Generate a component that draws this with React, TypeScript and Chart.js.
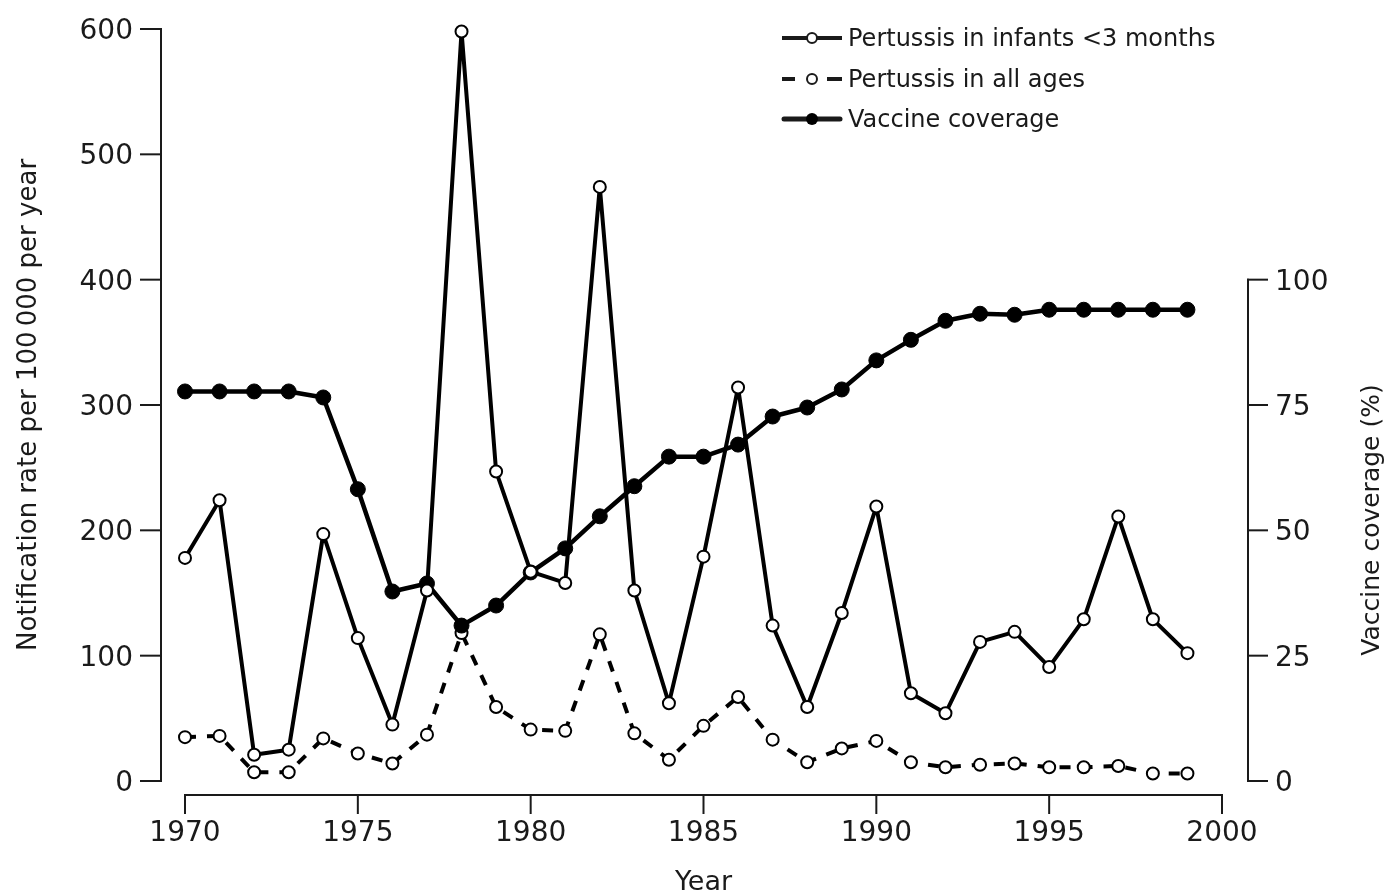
import React, { useEffect, useRef } from 'react';
import { Chart, registerables } from 'chart.js';

Chart.register(...registerables);

const years = [
  1970, 1971, 1972, 1973, 1974, 1975, 1976, 1977, 1978, 1979,
  1980, 1981, 1982, 1983, 1984, 1985, 1986, 1987, 1988, 1989,
  1990, 1991, 1992, 1993, 1994, 1995, 1996, 1997, 1998, 1999,
];

const infants = [
  178, 224, 21, 25, 197, 114, 45, 152, 598, 247,
  167, 158, 474, 152, 62, 179, 314, 124, 59, 134,
  219, 70, 54, 111, 119, 91, 129, 211, 129, 102,
];

const allAges = [
  35, 36, 7, 7, 34, 22, 14, 37, 118, 59,
  41, 40, 117, 38, 17, 44, 67, 33, 15, 26,
  32, 15, 11, 13, 14, 11, 11, 12, 6, 6,
];

const coverage = [
  77.7, 77.7, 77.7, 77.7, 76.5, 58.2, 37.8, 39.4, 31, 35,
  41.6, 46.4, 52.8, 58.8, 64.7, 64.7, 67.1, 72.7, 74.5, 78.1,
  83.9, 88, 91.8, 93.2, 93, 94, 94, 94, 94, 94,
];

const xTicks = [1970, 1975, 1980, 1985, 1990, 1995, 2000];
const leftTicks = [0, 100, 200, 300, 400, 500, 600];
const rightTicks = [0, 25, 50, 75, 100];

const seriesLabels = [
  'Pertussis in infants <3 months',
  'Pertussis in all ages',
  'Vaccine coverage',
];

const xTitle = 'Year';
const leftTitle = 'Notification rate per 100\u2009000 per year';
const rightTitle = 'Vaccine coverage (%)';

const INK = '#1a1a1a';
const FONT = '"DejaVu Sans", "Liberation Sans", sans-serif';

const axesPlugin = {
  id: 'customAxes',
  afterDraw(chart: any) {
    const ctx = chart.ctx as CanvasRenderingContext2D;
    const xs = chart.scales.x;
    const ys = chart.scales.y;
    const y2 = chart.scales.y2;
    ctx.save();
    ctx.strokeStyle = INK;
    ctx.fillStyle = INK;
    ctx.lineWidth = 2;
    ctx.lineCap = 'square';

    // Left axis
    const lx = xs.left - 24;
    const yTop = ys.getPixelForValue(leftTicks[leftTicks.length - 1]);
    const yBot = ys.getPixelForValue(leftTicks[0]);
    ctx.beginPath();
    ctx.moveTo(lx, yTop);
    ctx.lineTo(lx, yBot);
    ctx.stroke();
    ctx.font = '28px ' + FONT;
    ctx.textAlign = 'right';
    ctx.textBaseline = 'alphabetic';
    leftTicks.forEach((t) => {
      const py = ys.getPixelForValue(t);
      ctx.beginPath();
      ctx.moveTo(lx - 20, py);
      ctx.lineTo(lx, py);
      ctx.stroke();
      ctx.fillText(String(t), lx - 28, py + 10);
    });

    // Right axis
    const rx = xs.right + 26;
    ctx.beginPath();
    ctx.moveTo(rx, y2.getPixelForValue(rightTicks[rightTicks.length - 1]));
    ctx.lineTo(rx, y2.getPixelForValue(rightTicks[0]));
    ctx.stroke();
    ctx.textAlign = 'left';
    rightTicks.forEach((t) => {
      const py = y2.getPixelForValue(t);
      ctx.beginPath();
      ctx.moveTo(rx, py);
      ctx.lineTo(rx + 19, py);
      ctx.stroke();
      ctx.fillText(String(t), rx + 27, py + 10);
    });

    // Bottom axis
    const by = ys.bottom + 14;
    ctx.beginPath();
    ctx.moveTo(xs.getPixelForValue(xTicks[0]), by);
    ctx.lineTo(xs.getPixelForValue(xTicks[xTicks.length - 1]), by);
    ctx.stroke();
    ctx.textAlign = 'center';
    xTicks.forEach((t) => {
      const px = xs.getPixelForValue(t);
      ctx.beginPath();
      ctx.moveTo(px, by);
      ctx.lineTo(px, by + 18);
      ctx.stroke();
      ctx.fillText(String(t), px, by + 46);
    });

    // Titles
    ctx.font = '27px ' + FONT;
    ctx.textAlign = 'center';
    ctx.fillText(xTitle, (xs.left + xs.right) / 2, by + 95);

    ctx.font = '26px ' + FONT;
    ctx.save();
    ctx.translate(36, (ys.top + ys.bottom) / 2);
    ctx.rotate(-Math.PI / 2);
    ctx.fillText(leftTitle, 0, 0);
    ctx.restore();

    ctx.font = '25px ' + FONT;
    ctx.save();
    ctx.translate(1379, 520);
    ctx.rotate(-Math.PI / 2);
    ctx.fillText(rightTitle, 0, 0);
    ctx.restore();

    // Legend
    const lgX0 = 782;
    const lgX1 = 842;
    const lgM = 812;
    const rows = [38, 79, 119];
    ctx.font = '24px ' + FONT;
    ctx.textAlign = 'left';
    ctx.lineCap = 'butt';
    // row 1
    ctx.lineWidth = 4;
    ctx.beginPath();
    ctx.moveTo(lgX0, rows[0]);
    ctx.lineTo(lgX1, rows[0]);
    ctx.stroke();
    ctx.beginPath();
    ctx.arc(lgM, rows[0], 5, 0, Math.PI * 2);
    ctx.fillStyle = '#fff';
    ctx.fill();
    ctx.lineWidth = 2;
    ctx.stroke();
    // row 2
    ctx.lineWidth = 4;
    ctx.beginPath();
    ctx.moveTo(lgX0, rows[1]);
    ctx.lineTo(lgX0 + 13, rows[1]);
    ctx.moveTo(lgX1 - 15, rows[1]);
    ctx.lineTo(lgX1, rows[1]);
    ctx.stroke();
    ctx.beginPath();
    ctx.arc(lgM, rows[1], 5, 0, Math.PI * 2);
    ctx.fillStyle = '#fff';
    ctx.fill();
    ctx.lineWidth = 2;
    ctx.stroke();
    // row 3
    ctx.lineWidth = 5;
    ctx.lineCap = 'round';
    ctx.beginPath();
    ctx.moveTo(lgX0 + 2, rows[2]);
    ctx.lineTo(lgX1 - 2, rows[2]);
    ctx.stroke();
    ctx.beginPath();
    ctx.arc(lgM, rows[2], 6, 0, Math.PI * 2);
    ctx.fillStyle = '#000';
    ctx.fill();

    ctx.fillStyle = INK;
    seriesLabels.forEach((lbl, i) => {
      ctx.fillText(lbl, 848, rows[i] + 8);
    });

    ctx.restore();
  },
};

export default function App() {
  const canvasRef = useRef<HTMLCanvasElement | null>(null);

  useEffect(() => {
    const canvas = canvasRef.current;
    if (!canvas) return;
    const toPoints = (vals: number[]) => years.map((yr, i) => ({ x: yr, y: vals[i] }));
    const chart = new Chart(canvas, {
      type: 'line',
      data: {
        datasets: [
          {
            label: seriesLabels[0],
            data: toPoints(infants),
            yAxisID: 'y',
            borderColor: '#000',
            borderWidth: 4,
            borderJoinStyle: 'round',
            pointRadius: 6,
            pointBorderWidth: 2,
            pointBackgroundColor: '#fff',
            pointBorderColor: '#000',
            tension: 0,
            clip: false,
            order: 1,
          },
          {
            label: seriesLabels[1],
            data: toPoints(allAges),
            yAxisID: 'y',
            borderColor: '#000',
            borderWidth: 4,
            borderDash: [11, 11],
            pointRadius: 6,
            pointBorderWidth: 2,
            pointBackgroundColor: '#fff',
            pointBorderColor: '#000',
            tension: 0,
            clip: false,
            order: 3,
          },
          {
            label: seriesLabels[2],
            data: toPoints(coverage),
            yAxisID: 'y2',
            borderColor: '#000',
            borderWidth: 4.5,
            borderJoinStyle: 'round',
            pointRadius: 7.5,
            pointBorderWidth: 1,
            pointBackgroundColor: '#000',
            pointBorderColor: '#000',
            tension: 0,
            clip: false,
            order: 2,
          },
        ],
      },
      options: {
        animation: false,
        responsive: false,
        devicePixelRatio: 1,
        layout: { padding: { left: 185, right: 166, top: 29, bottom: 114 } },
        plugins: {
          legend: { display: false },
          tooltip: { enabled: false },
        },
        events: [],
        scales: {
          x: { type: 'linear', min: 1970, max: 2000, display: false },
          y: { type: 'linear', min: 0, max: 600, display: false },
          y2: { type: 'linear', min: 0, max: 150, display: false, position: 'right' },
        },
      },
      plugins: [axesPlugin],
    });
    return () => chart.destroy();
  }, []);

  return (
    <div style={{ position: 'fixed', left: 0, top: 0, width: 1388, height: 895, background: '#fff' }}>
      <canvas ref={canvasRef} width={1388} height={895} style={{ display: 'block' }} />
    </div>
  );
}
